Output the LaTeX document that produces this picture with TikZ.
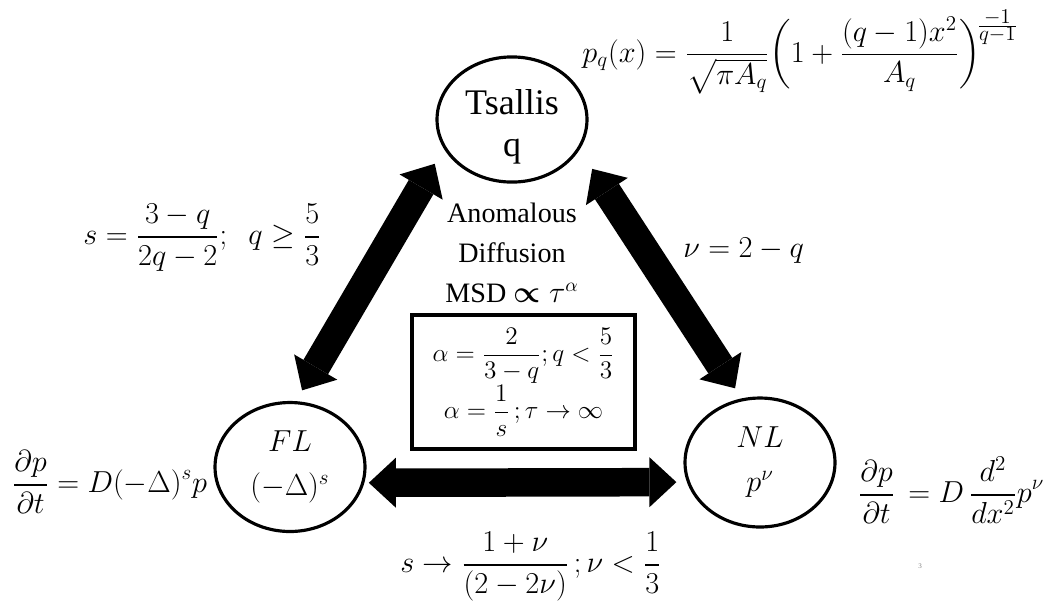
\documentclass[tikz,border=0pt]{standalone}
\usepackage{amsmath,amssymb}
\usepackage{fontspec}
\setmainfont{Liberation Serif}
\usetikzlibrary{positioning,arrows.meta,shapes.geometric}
\tikzset{
  state/.style={ellipse,draw,line width=1.8pt,minimum width=3cm,minimum height=2.58cm,inner sep=0pt,align=center},
  dbl/.style={line width=0.57cm,{Triangle[length=0.54cm,width=1cm,line width=0pt]}-{Triangle[length=0.54cm,width=1cm,line width=0pt]}},
  eqn/.style={font=\fontsize{18}{21}\selectfont,inner sep=0pt},
  nlab/.style={font=\fontsize{17}{25}\selectfont},
  boxeq/.style={draw,line width=1.8pt,minimum width=4.46cm,minimum height=2.68cm,align=center,font=\fontsize{13.5}{15}\selectfont}
}

\begin{document}
\begin{tikzpicture}[x=0.02cm,y=-0.02cm]
  \useasboundingbox (0,0) rectangle (1051,603);
  % the three models
  \node[state,minimum height=2.34cm,font=\fontsize{20.5}{23.5}\selectfont] (tsallis) at (512,119.5) {\rule{0pt}{22.5pt}Tsallis\\q};
  \node[state,nlab] (fl) at (290,467) {$FL$\\$(-\Delta)^s$};
  \node[state,nlab] (nl) at (760,462.5) {$NL$\\$p^{\nu}$};
  % mapping arrows
  \draw[dbl,shorten <=0.354cm,shorten >=0.25cm] (tsallis.203) -- (fl.85);
  \draw[dbl,shorten <=0.46cm,shorten >=0.24cm] (tsallis.336) -- (nl.106);
  \draw[dbl,shorten <=0.09cm,shorten >=0.21cm] (fl.348) -- (nl.195);
  % centre
  \node[font=\fontsize{16}{22.7}\selectfont,align=center] (anom) at (512,253) {Anomalous\\Diffusion\\MSD $\boldsymbol{\propto}\tau^{\alpha}$};
  \node[boxeq] (msdbox) at (523.5,382) {$\displaystyle\alpha=\frac{2}{3-q};q<\frac{5}{3}$\\[0pt]$\displaystyle\alpha=\frac{1}{s}\,;\tau\to\infty$};
  % equations
  \node[eqn,font=\fontsize{16.5}{20}\selectfont,anchor=base west] (ptsal) at (582,62) {$\displaystyle p_q(x)=\frac{1}{\sqrt{\pi A_q}}\biggl(1+\frac{(q-1)x^2}{A_q}\biggr)^{\!\raisebox{-3pt}{$\scriptstyle\frac{\scriptstyle -1}{\scriptstyle q-1}$}}$};
  \node[eqn,anchor=base west] (sq) at (83,244.5) {$\displaystyle s=\frac{3-q}{2q-2};\;\ q\geq\frac{5}{3}$};
  \node[eqn,font=\fontsize{19}{21}\selectfont,anchor=base west] (nuq) at (683,257) {$\nu=2-q$};
  \node[eqn,anchor=base west] (fleq) at (12,492.5) {$\displaystyle\frac{\partial p}{\partial t}=D(-\Delta)^s p$};
  \node[eqn,anchor=base west] (nleq) at (858,502.5) {$\displaystyle\frac{\partial p}{\partial t}\,=D\,\frac{d^2}{dx^2}p^{\nu}$};
  \node[eqn,anchor=base west] (snu) at (400,572.5) {$\displaystyle s\to\frac{1+\nu}{(2-2\nu)}\,;\nu<\frac{1}{3}$};
  \node[font=\fontsize{4}{4}\selectfont,text=gray] (pgno) at (920,566) {3};
\end{tikzpicture}
\end{document}
